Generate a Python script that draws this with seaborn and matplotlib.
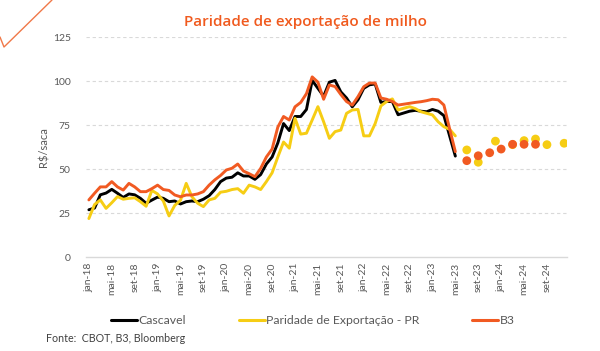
import numpy as np
import pandas as pd
import matplotlib
matplotlib.use("Agg")
import matplotlib.pyplot as plt
from matplotlib.lines import Line2D
import seaborn as sns

# ---------------- data ----------------
months_pt = ["jan", "fev", "mar", "abr", "mai", "jun", "jul", "ago", "set", "out", "nov", "dez"]
month_labels = [f"{months_pt[i % 12]}-{18 + i // 12}" for i in range(84)]  # jan-18 .. dez-24

cascavel = [27, 28, 35.5, 36.5, 38.6, 36.4, 34, 36, 35.5, 33.5, 30.7, 32.5,
            34.2, 33.5, 31.6, 32, 30.3, 31.6, 32, 31.6, 33, 35, 38.5, 43,
            45, 45.5, 48, 46.2, 46.2, 44.3, 47, 53, 57, 65, 76, 72,
            80, 80, 84, 100.5, 96, 91.5, 99.5, 100.5, 94, 90.5, 85.5, 89.5,
            96, 98, 98.5, 88, 88.5, 88.5, 81, 82, 83, 83.5, 83, 82.7,
            84, 83, 80.5, 69, 57.5]

paridade = [22, 30, 32.6, 27.8, 31, 34.5, 33, 33.5, 33.8, 31.6, 29, 38,
            36, 32, 23.5, 29.5, 32.4, 42, 34.4, 30.7, 28.8, 32.6, 33.5, 37,
            37.5, 38.5, 39, 36.4, 41, 40, 38.5, 43, 48, 57, 65.5, 62,
            79, 70, 70.5, 78, 85.6, 77, 67.6, 71.4, 72.3, 81.8, 83.7, 84,
            69, 69, 76, 86, 88.5, 90, 83.7, 84.7, 85.6, 84.5, 82.7, 81.8,
            80.9, 77, 74.2, 72.7, 69]

b3 = [32.6, 36.4, 40, 40, 43, 40, 38.2, 42, 40, 37.3, 37.3, 39,
      41, 38.5, 38, 35.4, 34.4, 35.4, 35.4, 36, 37.3, 41, 44, 46.5,
      49.6, 50.6, 53, 49, 47.5, 45.8, 50.5, 57, 61.5, 74, 80, 78,
      85.5, 88, 93, 102.5, 99.5, 89.8, 97.9, 97, 92.5, 88.5, 86.5, 91.3,
      96.9, 99, 99, 90.5, 89.8, 88.5, 86.5, 87, 87.5, 88, 88.4, 89,
      89.8, 89.5, 86.5, 73, 60]

# projections (futures contract months)
b3_proj_labels = ["jul-23", "set-23", "nov-23", "jan-24", "mar-24", "mai-24", "jul-24"]
b3_proj = [54.9, 57.7, 59.4, 61.5, 64.2, 64.2, 64.2]
par_proj_labels = ["jul-23", "set-23", "dez-23", "mar-24", "mai-24", "jul-24", "set-24", "dez-24"]
par_proj = [61, 54, 66, 64, 66.3, 67.2, 64, 64.8]

series_names = ["Cascavel", "Paridade de Exportação - PR", "B3"]
colors = {"Cascavel": "#000000", "Paridade de Exportação - PR": "#F6CD14", "B3": "#F15A22"}

# ---------------- frames ----------------
n_hist = len(cascavel)
lines_df = pd.concat([
    pd.DataFrame({"mes": np.arange(n_hist), "valor": vals, "serie": name})
    for name, vals in zip(series_names, [cascavel, paridade, b3])
], ignore_index=True)

idx = {lab: i for i, lab in enumerate(month_labels)}
dots_df = pd.concat([
    pd.DataFrame({"mes": [idx[l] for l in par_proj_labels], "valor": par_proj,
                  "serie": "Paridade de Exportação - PR"}),
    pd.DataFrame({"mes": [idx[l] for l in b3_proj_labels], "valor": b3_proj, "serie": "B3"}),
], ignore_index=True)

# ---------------- style ----------------
sns.set_theme(style="white")
plt.rcParams["font.family"] = ["Lato", "DejaVu Sans"]
text_gray = "#595959"

fig = plt.figure(figsize=(6.0, 3.51), dpi=100)
W, H = 600, 351
ax = fig.add_axes([86 / W, 1 - 257.3 / H, 481 / W, 220 / H])

sns.lineplot(data=lines_df, x="mes", y="valor", hue="serie", hue_order=series_names,
             palette=colors, linewidth=2.1, ax=ax, legend=False, zorder=3)
for name in ["Paridade de Exportação - PR", "B3"]:
    sub = dots_df[dots_df["serie"] == name]
    sns.scatterplot(data=sub, x="mes", y="valor", color=colors[name], s=40,
                    edgecolor="none", ax=ax, legend=False, zorder=4)

ax.set_xlim(-0.5, 83.5)
ax.set_ylim(0, 125)
ax.set_yticks([0, 25, 50, 75, 100, 125])
ax.set_xticks(np.arange(0, 84, 4))
ax.set_xticklabels([month_labels[i] for i in range(0, 84, 4)], rotation=90)
ax.tick_params(axis="x", length=0, pad=4, labelsize=7.5, labelcolor=text_gray)
ax.tick_params(axis="y", length=0, pad=11, labelsize=7.5, labelcolor=text_gray)
ax.set_xlabel("")
ax.set_ylabel("R$/saca", fontsize=8, color=text_gray, labelpad=2)

for y in [25, 50, 75, 100, 125]:
    ax.axhline(y, color="#D9D9D9", lw=0.8, ls=(0, (3, 2.5)), zorder=1)
for s in ["top", "right", "left"]:
    ax.spines[s].set_visible(False)
ax.spines["bottom"].set_color("#D9D9D9")
ax.spines["bottom"].set_linewidth(1.0)

# title
fig.text(305 / W, 1 - 22 / H, "Paridade de exportação de milho", ha="center", va="center",
         fontsize=11, color="#F05A1E", fontweight="semibold", family=["Open Sans", "DejaVu Sans"])

# legend
handles = [Line2D([0], [0], color=colors[n], lw=2.2) for n in series_names]
fig.legend(handles, series_names, loc="center", bbox_to_anchor=(313 / W, 1 - 321 / H),
           ncol=3, frameon=False, fontsize=8.8, handlelength=2.1, handletextpad=0.15,
           columnspacing=4.3, labelcolor=text_gray)

# source
fig.text(46 / W, 1 - 338 / H, "Fonte:  CBOT, B3, Bloomberg", ha="left", va="center",
         fontsize=7.7, color="#404040")

# decorative corner line
fig.add_artist(Line2D([0 / W, 4 / W, 52 / W], [1 - 37 / H, 1 - 47 / H, 1 - 0 / H],
                      transform=fig.transFigure, color="#F07848", lw=1.0,
                      solid_joinstyle="round"))

fig.savefig("out.png", dpi=100)
